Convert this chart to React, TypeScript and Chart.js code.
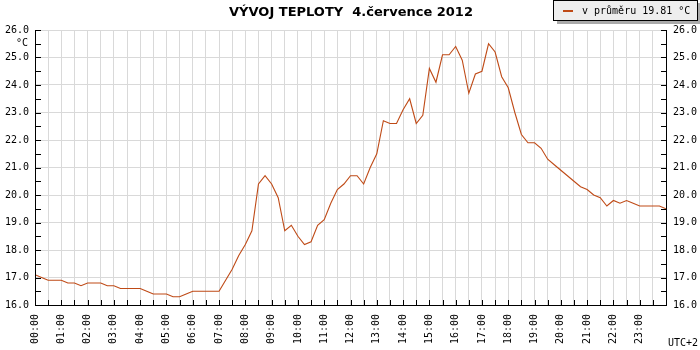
import React, { useEffect, useRef } from "react";
import { Chart, registerables } from "chart.js";

Chart.register(...registerables);

// Temperature readings every 15 minutes, 00:00 .. 24:00 (°C)
const temps: number[] = [
  17.1, 17.0, 16.9, 16.9, 16.9, 16.8, 16.8, 16.7, 16.8, 16.8, 16.8, 16.7, 16.7,
  16.6, 16.6, 16.6, 16.6, 16.5, 16.4, 16.4, 16.4, 16.3, 16.3, 16.4, 16.5, 16.5,
  16.5, 16.5, 16.5, 16.9, 17.3, 17.8, 18.2, 18.7, 20.4, 20.7, 20.4, 19.9, 18.7,
  18.9, 18.5, 18.2, 18.3, 18.9, 19.1, 19.7, 20.2, 20.4, 20.7, 20.7,
  20.4, 21.0, 21.5, 22.7, 22.6, 22.6, 23.1, 23.5, 22.6, 22.9, 24.6, 24.1, 25.1,
  25.1, 25.4, 24.9, 23.7, 24.4, 24.5, 25.5, 25.2, 24.3, 23.9,
  23.0, 22.2, 21.9, 21.9, 21.7, 21.3, 21.1, 20.9, 20.7, 20.5, 20.3, 20.2, 20.0,
  19.9, 19.6, 19.8, 19.7, 19.8, 19.7, 19.6, 19.6, 19.6, 19.6, 19.5,
];
const stepMinutes = 15;

const titleText = "VÝVOJ TEPLOTY  4.července 2012";
const legendText = "v průměru 19.81 °C";
const unitText = "°C";
const tzText = "UTC+2";
const yMin = 16;
const yMax = 26;
const xMin = 0;
const xMax = 24;

const LINE = "#bf4a16";
const GRID = "#d9d9d9";
const MONO = '"DejaVu Sans Mono", monospace';

const pad2 = (n: number) => (n < 10 ? "0" + n : "" + n);
const isInt = (v: number) => Math.abs(v - Math.round(v)) < 1e-6;

const overlay = {
  id: "overlay",
  afterDraw(chart: any) {
    const { ctx, chartArea: a, scales } = chart;
    ctx.save();
    ctx.strokeStyle = "#000";
    ctx.lineWidth = 1;
    ctx.beginPath();
    ctx.moveTo(a.left + 0.5, a.top);
    ctx.lineTo(a.left + 0.5, a.bottom + 0.5);
    ctx.lineTo(a.right + 0.5, a.bottom + 0.5);
    ctx.lineTo(a.right + 0.5, a.top);
    // x ticks (inside)
    for (let v = xMin; v <= xMax + 1e-6; v += 0.5) {
      const x = Math.round(scales.x.getPixelForValue(v)) + 0.5;
      ctx.moveTo(x, a.bottom);
      ctx.lineTo(x, a.bottom - 5);
    }
    // y ticks (inside) both sides
    for (let t = yMin; t <= yMax + 1e-6; t += 0.5) {
      const y = Math.round(scales.y.getPixelForValue(t)) + 0.5;
      ctx.moveTo(a.left, y);
      ctx.lineTo(a.left + 6, y);
      ctx.moveTo(a.right + 1, y);
      ctx.lineTo(a.right - 5, y);
    }
    ctx.stroke();

    // title
    ctx.fillStyle = "#000";
    ctx.font = 'bold 13px "DejaVu Sans", sans-serif';
    ctx.textAlign = "center";
    ctx.textBaseline = "middle";
    ctx.fillText(titleText, 351, 13);

    // unit
    ctx.font = "10px " + MONO;
    ctx.textAlign = "center";
    ctx.fillText(unitText, 22, 43);

    // timezone
    ctx.textAlign = "left";
    ctx.fillText(tzText, 668, 343);

    // legend box with shadow
    ctx.fillStyle = "#aaaaaa";
    ctx.fillRect(557, 3, 143, 21);
    ctx.fillStyle = "#eeeeee";
    ctx.fillRect(554, 0, 144, 21);
    ctx.strokeStyle = "#000";
    ctx.strokeRect(553.5, 0.5, 144, 20);
    ctx.strokeStyle = LINE;
    ctx.lineWidth = 2;
    ctx.beginPath();
    ctx.moveTo(563, 11);
    ctx.lineTo(573, 11);
    ctx.stroke();
    ctx.fillStyle = "#000";
    ctx.font = "10px " + MONO;
    ctx.textAlign = "left";
    ctx.textBaseline = "middle";
    ctx.fillText(legendText, 582, 11);
    ctx.restore();
  },
};

export default function App() {
  const ref = useRef<HTMLCanvasElement | null>(null);

  useEffect(() => {
    if (!ref.current) return;
    const points = temps.map((t, i) => ({ x: (i * stepMinutes) / 60, y: t }));
    const yTicks = {
      stepSize: 0.5,
      color: "#000",
      font: { family: MONO, size: 10 },
      callback: (v: any) => (isInt(Number(v)) ? Number(v).toFixed(1) : ""),
    };
    const chart = new Chart(ref.current, {
      type: "line",
      data: {
        datasets: [
          {
            data: points,
            borderColor: LINE,
            borderWidth: 1.1,
            pointRadius: 0,
            tension: 0,
            fill: false,
          },
        ],
      },
      options: {
        animation: false,
        responsive: false,
        events: [],
        layout: { padding: { top: 30, left: 0, right: 0, bottom: 0 } },
        plugins: {
          legend: { display: false },
          title: { display: false },
          tooltip: { enabled: false },
        },
        scales: {
          x: {
            type: "linear",
            min: xMin,
            max: xMax,
            border: { display: false },
            grid: { color: GRID, drawTicks: false, lineWidth: 1 },
            afterFit: (s: any) => {
              s.height = 45;
            },
            ticks: {
              stepSize: 0.5,
              autoSkip: false,
              maxRotation: 90,
              minRotation: 90,
              padding: 9,
              color: "#000",
              font: { family: MONO, size: 10 },
              callback: (v: any) => {
                const n = Number(v);
                return isInt(n) && n < 24 ? pad2(Math.round(n)) + ":00" : "";
              },
            },
          },
          y: {
            type: "linear",
            position: "left",
            min: yMin,
            max: yMax,
            border: { display: false },
            grid: {
              drawTicks: false,
              color: (c: any) =>
                c.tick && isInt(c.tick.value) ? GRID : "rgba(0,0,0,0)",
            },
            afterFit: (s: any) => {
              s.width = 35;
            },
            ticks: { ...yTicks, padding: 6 },
          },
          y2: {
            type: "linear",
            position: "right",
            min: yMin,
            max: yMax,
            border: { display: false },
            grid: { display: false, drawTicks: false },
            afterFit: (s: any) => {
              s.width = 34;
            },
            ticks: { ...yTicks, padding: 7 },
          },
        },
      },
      plugins: [overlay],
    });
    return () => chart.destroy();
  }, []);

  return (
    <div
      style={{
        position: "fixed",
        left: 0,
        top: 0,
        width: 700,
        height: 350,
        background: "#fff",
      }}
    >
      <canvas ref={ref} width={700} height={350} />
    </div>
  );
}
